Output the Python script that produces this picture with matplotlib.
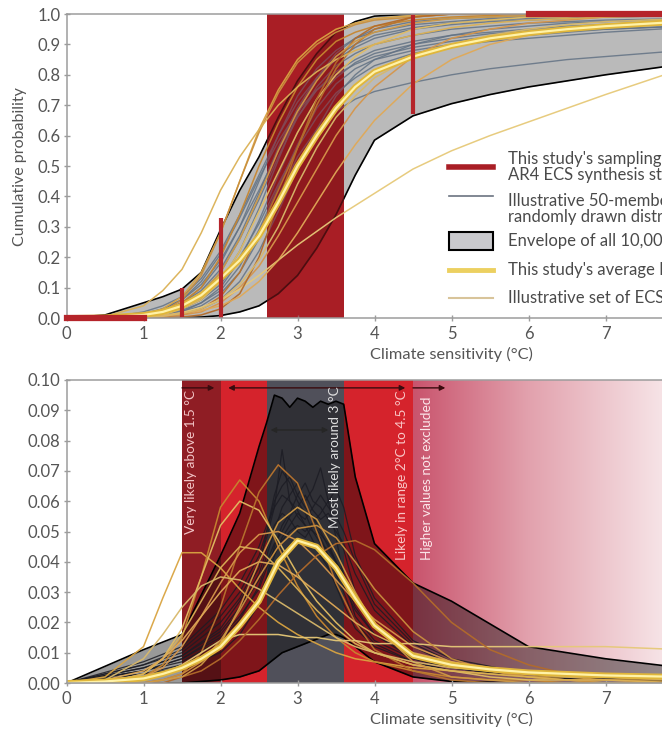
import numpy as np
import matplotlib
matplotlib.use("Agg")
import matplotlib.pyplot as plt
from matplotlib.colors import LinearSegmentedColormap
from matplotlib.patches import Rectangle

plt.rcParams['font.family'] = ['Lato', 'DejaVu Sans']

# ---------------- data: top panel (cumulative probability) ----------------
x_grid = [0, 0.5, 1.0, 1.25, 1.5, 1.75, 2.0, 2.25, 2.5, 2.75, 3.0, 3.25, 3.5, 3.75,
          4.0, 4.5, 5.0, 5.5, 6.0, 6.5, 7.0, 8.0]

cdf_env_upper = [0, 0.01, 0.05, 0.07, 0.095, 0.15, 0.29, 0.42, 0.53, 0.66, 0.78, 0.87, 0.94, 0.975,
                 0.993, 1, 1, 1, 1, 1, 1, 1]
cdf_env_lower = [0, 0, 0, 0, 0.001, 0.003, 0.008, 0.02, 0.04, 0.08, 0.14, 0.23, 0.34, 0.47,
                 0.585, 0.665, 0.705, 0.735, 0.76, 0.78, 0.80, 0.835]
cdf_average = [0, 0.002, 0.01, 0.02, 0.04, 0.075, 0.13, 0.19, 0.27, 0.38, 0.50, 0.60, 0.69, 0.76,
               0.81, 0.86, 0.895, 0.92, 0.937, 0.95, 0.96, 0.975]

rand_cdf_1 = [0, 0, 0.02, 0.04, 0.07, 0.13, 0.22, 0.34, 0.47, 0.60, 0.71, 0.79, 0.85, 0.89, 0.92, 0.95, 0.965, 0.975, 0.98, 0.985, 0.99, 0.995]
rand_cdf_2 = [0, 0, 0.01, 0.02, 0.04, 0.08, 0.15, 0.26, 0.39, 0.53, 0.66, 0.76, 0.83, 0.87, 0.90, 0.93, 0.95, 0.96, 0.97, 0.975, 0.98, 0.985]
rand_cdf_3 = [0, 0, 0.005, 0.01, 0.02, 0.05, 0.10, 0.19, 0.32, 0.47, 0.61, 0.72, 0.79, 0.84, 0.87, 0.90, 0.92, 0.935, 0.945, 0.955, 0.96, 0.97]
rand_cdf_4 = [0, 0, 0.01, 0.02, 0.05, 0.10, 0.18, 0.30, 0.45, 0.60, 0.73, 0.82, 0.88, 0.92, 0.94, 0.965, 0.975, 0.985, 0.99, 0.99, 0.995, 1]
rand_cdf_5 = [0, 0, 0.005, 0.01, 0.02, 0.04, 0.08, 0.15, 0.26, 0.40, 0.53, 0.62, 0.68, 0.72, 0.745, 0.775, 0.80, 0.82, 0.835, 0.85, 0.86, 0.88]
rand_cdf_6 = [0, 0, 0.01, 0.03, 0.06, 0.11, 0.19, 0.30, 0.42, 0.55, 0.66, 0.75, 0.81, 0.85, 0.88, 0.91, 0.93, 0.94, 0.95, 0.96, 0.965, 0.975]
rand_cdf_7 = [0, 0, 0.005, 0.01, 0.03, 0.06, 0.12, 0.22, 0.36, 0.52, 0.67, 0.79, 0.87, 0.92, 0.95, 0.975, 0.985, 0.99, 0.995, 1, 1, 1]
rand_cdf_8 = [0, 0, 0.005, 0.015, 0.03, 0.06, 0.11, 0.20, 0.31, 0.44, 0.56, 0.66, 0.74, 0.79, 0.83, 0.87, 0.895, 0.91, 0.92, 0.93, 0.94, 0.955]
rand_cdf_9 = [0, 0, 0.01, 0.025, 0.05, 0.09, 0.16, 0.27, 0.41, 0.56, 0.69, 0.79, 0.86, 0.90, 0.93, 0.955, 0.97, 0.98, 0.985, 0.99, 0.99, 0.995]
rand_cdf_10 = [0, 0, 0.005, 0.01, 0.025, 0.05, 0.09, 0.17, 0.29, 0.43, 0.57, 0.69, 0.77, 0.82, 0.85, 0.88, 0.90, 0.92, 0.93, 0.94, 0.95, 0.96]
rand_cdf_11 = [0, 0, 0.003, 0.008, 0.015, 0.03, 0.06, 0.12, 0.22, 0.35, 0.49, 0.62, 0.73, 0.80, 0.85, 0.90, 0.93, 0.95, 0.96, 0.97, 0.975, 0.985]
rand_cdf_12 = [0, 0, 0.015, 0.03, 0.06, 0.12, 0.21, 0.33, 0.46, 0.58, 0.68, 0.75, 0.80, 0.835, 0.86, 0.89, 0.91, 0.925, 0.935, 0.945, 0.95, 0.96]

lit_cdf_a = [0, 0, 0.01, 0.03, 0.07, 0.15, 0.28, 0.45, 0.62, 0.75, 0.85, 0.91, 0.95, 0.97, 0.985, 0.995, 1, 1, 1, 1, 1, 1]
lit_cdf_b = [0, 0, 0.01, 0.02, 0.05, 0.10, 0.20, 0.34, 0.50, 0.64, 0.76, 0.85, 0.91, 0.94, 0.96, 0.98, 0.99, 0.995, 1, 1, 1, 1]
lit_cdf_c = [0, 0, 0.005, 0.01, 0.03, 0.06, 0.12, 0.22, 0.35, 0.48, 0.61, 0.72, 0.80, 0.86, 0.90, 0.95, 0.97, 0.98, 0.99, 0.99, 1, 1]
lit_cdf_d = [0, 0, 0, 0.003, 0.01, 0.03, 0.07, 0.15, 0.28, 0.42, 0.56, 0.70, 0.82, 0.90, 0.95, 0.99, 1, 1, 1, 1, 1, 1]
lit_cdf_e = [0, 0, 0, 0.005, 0.01, 0.02, 0.05, 0.10, 0.17, 0.27, 0.38, 0.49, 0.60, 0.69, 0.76, 0.86, 0.92, 0.95, 0.97, 0.98, 0.99, 1]
lit_cdf_f = [0, 0, 0.003, 0.008, 0.018, 0.035, 0.06, 0.095, 0.14, 0.19, 0.24, 0.285, 0.33, 0.37, 0.41, 0.49, 0.55, 0.60, 0.645, 0.69, 0.735, 0.82]
lit_cdf_g = [0, 0, 0.005, 0.02, 0.06, 0.14, 0.28, 0.45, 0.61, 0.74, 0.84, 0.90, 0.94, 0.965, 0.98, 0.99, 1, 1, 1, 1, 1, 1]
lit_cdf_h = [0, 0.005, 0.04, 0.09, 0.16, 0.28, 0.42, 0.53, 0.62, 0.70, 0.76, 0.81, 0.85, 0.88, 0.90, 0.93, 0.955, 0.97, 0.98, 0.985, 0.99, 0.995]
lit_cdf_i = [0, 0, 0, 0, 0.003, 0.01, 0.03, 0.08, 0.20, 0.38, 0.56, 0.72, 0.84, 0.92, 0.96, 0.99, 1, 1, 1, 1, 1, 1]
lit_cdf_j = [0, 0, 0.003, 0.008, 0.015, 0.025, 0.04, 0.07, 0.12, 0.19, 0.28, 0.38, 0.48, 0.57, 0.65, 0.77, 0.85, 0.90, 0.93, 0.95, 0.965, 0.98]
lit_cdf_k = [0, 0, 0.008, 0.02, 0.04, 0.08, 0.15, 0.26, 0.40, 0.55, 0.68, 0.78, 0.86, 0.91, 0.94, 0.97, 0.985, 0.99, 0.995, 1, 1, 1]
lit_cdf_l = [0, 0, 0.002, 0.006, 0.015, 0.03, 0.06, 0.11, 0.19, 0.30, 0.44, 0.56, 0.66, 0.73, 0.79, 0.86, 0.90, 0.93, 0.95, 0.965, 0.975, 0.985]

# AR4 synthesis-statement sampling marks
ar4_bar_x = [1.5, 2.0, 4.5]
ar4_bar_low = [0.0, 0.0, 0.67]
ar4_bar_high = [0.10, 0.33, 1.0]
ar4_span = [2.6, 3.6]
ar4_low_seg = [0, 1]
ar4_high_seg = [6, 10]

# ---------------- data: bottom panel (probability density) ----------------
pdf_average = [0, 0.0005, 0.0015, 0.003, 0.005, 0.008, 0.012, 0.019, 0.027, 0.040, 0.047, 0.045, 0.038, 0.028,
               0.019, 0.009, 0.006, 0.0045, 0.0035, 0.003, 0.0025, 0.002]

lit_pdf_a = [0, .002, .012, .028, .043, .043, .038, .031, .025, .020, .016, .013, .010, .008, .007, .005, .004, .003, .002, .002, .001, .001]
lit_pdf_b = [0, 0, .002, .006, .015, .035, .058, .067, .060, .045, .032, .022, .015, .010, .007, .004, .002, .001, .001, 0, 0, 0]
lit_pdf_c = [0, 0, .003, .008, .018, .035, .052, .060, .057, .047, .036, .027, .020, .014, .010, .006, .004, .002, .001, .001, 0, 0]
lit_pdf_d = [0, 0, 0, .001, .003, .010, .025, .045, .063, .072, .066, .050, .033, .020, .011, .004, .001, 0, 0, 0, 0, 0]
lit_pdf_e = [0, 0, .002, .005, .012, .022, .033, .043, .049, .050, .047, .041, .034, .027, .021, .012, .007, .004, .002, .001, .001, 0]
lit_pdf_f = [0, 0, .001, .003, .006, .010, .014, .016, .016, .016, .015, .015, .014, .014, .013, .013, .012, .012, .012, .012, .012, .011]
lit_pdf_g = [0, 0, 0, .001, .003, .007, .014, .024, .035, .045, .051, .052, .048, .040, .031, .017, .008, .004, .002, .001, 0, 0]
lit_pdf_h = [0, 0, .003, .008, .016, .027, .038, .045, .044, .038, .031, .024, .018, .013, .010, .006, .004, .003, .002, .001, .001, 0]
lit_pdf_i = [0, 0, 0, 0, .002, .004, .008, .014, .021, .029, .036, .042, .046, .047, .044, .033, .020, .011, .006, .003, .002, .001]
lit_pdf_j = [0, .001, .004, .008, .014, .022, .030, .037, .040, .039, .035, .030, .025, .020, .016, .010, .007, .005, .004, .003, .002, .001]
lit_pdf_k = [0, 0, 0, .001, .002, .006, .013, .025, .040, .053, .058, .054, .043, .030, .019, .007, .002, .001, 0, 0, 0, 0]
lit_pdf_l = [0, .001, .008, .016, .025, .032, .035, .034, .031, .027, .023, .019, .015, .012, .010, .007, .005, .004, .003, .002, .002, .001]

x_fine = [0, 1.0, 1.5, 2.0, 2.25, 2.5, 2.6, 2.7, 2.8, 2.9, 3.0, 3.1, 3.2, 3.3, 3.4, 3.5, 3.6, 3.75,
          4.0, 4.5, 5.0, 6.0, 7.0, 8.0]
pdf_env_upper = [0, .011, .016, .042, .056, .078, .086, .095, .094, .091, .094, .093, .091, .093, .092, .093, .092, .068,
                 .046, .033, .027, .012, .008, .005]
pdf_env_lower = [0, 0, 0, .001, .002, .004, .006, .008, .010, .011, .012, .013, .014, .015, .016, .016, .015, .012,
                 .007, .002, .0005, 0, 0, 0]

rand_pdf_1 = [0, .006, .010, .020, .028, .040, .048, .058, .077, .060, .055, .052, .050, .048, .042, .036, .030, .020, .013, .007, .004, .002, .001, .0005]
rand_pdf_2 = [0, .004, .008, .016, .024, .034, .042, .050, .058, .062, .066, .060, .064, .071, .060, .048, .035, .022, .014, .008, .005, .002, .001, .0005]
rand_pdf_3 = [0, .005, .009, .018, .027, .038, .050, .060, .065, .068, .062, .058, .055, .050, .045, .040, .032, .024, .016, .009, .005, .003, .001, .001]
rand_pdf_4 = [0, .003, .006, .012, .019, .028, .035, .045, .052, .056, .062, .066, .060, .058, .054, .050, .046, .036, .024, .012, .006, .003, .001, .0005]
rand_pdf_5 = [0, .007, .012, .024, .033, .045, .052, .058, .062, .060, .057, .052, .047, .042, .038, .032, .026, .018, .012, .007, .004, .002, .001, .0005]
rand_pdf_6 = [0, .004, .007, .014, .021, .032, .040, .046, .050, .055, .058, .062, .057, .054, .056, .052, .044, .030, .018, .009, .005, .002, .001, .0005]
rand_pdf_7 = [0, .005, .009, .017, .025, .036, .044, .052, .056, .054, .050, .048, .052, .049, .046, .040, .036, .027, .018, .010, .006, .003, .001, .0005]
rand_pdf_8 = [0, .003, .005, .010, .016, .026, .034, .042, .048, .052, .056, .054, .058, .062, .058, .055, .050, .040, .026, .013, .007, .003, .001, .0005]
rand_pdf_9 = [0, .006, .011, .022, .030, .042, .050, .062, .070, .066, .060, .056, .050, .046, .044, .040, .034, .025, .016, .008, .005, .002, .001, .0005]
rand_pdf_10 = [0, .004, .008, .015, .022, .031, .038, .044, .047, .050, .052, .050, .053, .056, .060, .064, .058, .042, .028, .014, .008, .003, .0015, .0005]

# IPCC AR4 statement bands (bottom panel)
band_very_likely = [1.5, 2.0]
band_likely_left = [2.0, 2.6]
band_most_likely = [2.6, 3.6]
band_likely_right = [3.6, 4.5]
band_higher = [4.5, 10.0]

x_tick_values = [0, 1, 2, 3, 4, 5, 6, 7]

rand_cdfs = [rand_cdf_1, rand_cdf_2, rand_cdf_3, rand_cdf_4, rand_cdf_5, rand_cdf_6,
             rand_cdf_7, rand_cdf_8, rand_cdf_9, rand_cdf_10, rand_cdf_11, rand_cdf_12]
lit_cdfs = [lit_cdf_a, lit_cdf_b, lit_cdf_c, lit_cdf_d, lit_cdf_e, lit_cdf_f,
            lit_cdf_g, lit_cdf_h, lit_cdf_i, lit_cdf_j, lit_cdf_k, lit_cdf_l]
lit_pdfs = [lit_pdf_a, lit_pdf_b, lit_pdf_c, lit_pdf_d, lit_pdf_e, lit_pdf_f,
            lit_pdf_g, lit_pdf_h, lit_pdf_i, lit_pdf_j, lit_pdf_k, lit_pdf_l]
rand_pdfs = [rand_pdf_1, rand_pdf_2, rand_pdf_3, rand_pdf_4, rand_pdf_5,
             rand_pdf_6, rand_pdf_7, rand_pdf_8, rand_pdf_9, rand_pdf_10]

# ---------------- style ----------------
RED = '#a91e25'
BAR_RED = '#b5242a'
AXIS_GREY = '#9c9c9c'
TEXT_GREY = '#555555'
lit_colors = ['#d9a441', '#c7862f', '#e2bd62', '#b8742e', '#d6964a', '#e6c978',
              '#c98f3e', '#dbb155', '#b36b2a', '#e0a957', '#cf9a45', '#d8b86a']

W, H = 662, 735
fig = plt.figure(figsize=(W / 100, H / 100), dpi=100)
fig.patch.set_facecolor('white')

ax1 = fig.add_axes([66.5 / W, 1 - 318 / H, 770 / W, 304 / H])
ax2 = fig.add_axes([66.5 / W, 1 - 683 / H, 770 / W, 303 / H])


def style_axes(ax):
    for side in ['left', 'bottom', 'top']:
        ax.spines[side].set_color(AXIS_GREY)
        ax.spines[side].set_linewidth(1.1)
        ax.spines[side].set_zorder(12)
    ax.spines['right'].set_visible(False)
    ax.tick_params(direction='inout', length=5, width=1, color=AXIS_GREY,
                   labelcolor=TEXT_GREY, labelsize=12)
    ax.tick_params(axis='y', pad=2)
    ax.tick_params(axis='x', pad=3)
    ax.set_xlim(0, 10)
    ax.set_xticks(x_tick_values)
    ax.set_xlabel('Climate sensitivity (°C)', fontsize=11.8, color=TEXT_GREY, labelpad=4)


# ---------------- top panel ----------------
ax1.axvspan(ar4_span[0], ar4_span[1], color=RED, zorder=0, lw=0)
ax1.fill_between(x_grid, cdf_env_lower, cdf_env_upper, color='black', alpha=0.27, lw=0, zorder=1)
ax1.plot(x_grid, cdf_env_upper, color='black', lw=1.2, zorder=1.5)
ax1.plot(x_grid, cdf_env_lower, color='black', lw=1.2, zorder=1.5)
for c in rand_cdfs:
    ax1.plot(x_grid, c, color='#627284', lw=1.0, alpha=0.85, zorder=2)
ax1.axvspan(ar4_span[0], ar4_span[1], color=RED, alpha=0.45, zorder=2.5, lw=0)
for c, col in zip(lit_cdfs, lit_colors):
    ax1.plot(x_grid, c, color=col, lw=1.1, alpha=0.95, zorder=3)
ax1.plot(x_grid, cdf_average, color='#e0b63a', lw=4.2, zorder=4, solid_capstyle='round')
ax1.plot(x_grid, cdf_average, color='#fff2a8', lw=1.6, zorder=4.1)
ax1.vlines(ar4_bar_x, ar4_bar_low, ar4_bar_high, color=BAR_RED, lw=3, zorder=6)
ax1.plot(ar4_low_seg, [0, 0], color=BAR_RED, lw=4.5, zorder=13, clip_on=False)
ax1.plot(ar4_high_seg, [1, 1], color=BAR_RED, lw=4.5, zorder=13, clip_on=False)

style_axes(ax1)
ax1.set_ylim(0, 1.0)
ax1.set_yticks(np.arange(0, 1.01, 0.1))
ax1.set_yticklabels([f'{v:.1f}' for v in np.arange(0, 1.01, 0.1)])

# legend (drawn by hand in axes fraction)
def fx(px):
    return (px - 66.5) / 770

def fy(py):
    return (318 - py) / 304

tr = ax1.transAxes
hx = [fx(449), fx(493)]
tx = fx(508)
ax1.plot(hx, [fy(167)] * 2, color=RED, lw=4, transform=tr, zorder=20)
ax1.plot(hx, [fy(196)] * 2, color='#6b7380', lw=1.2, transform=tr, zorder=20)
ax1.add_patch(Rectangle((fx(449), fy(250)), fx(493) - fx(449), fy(232) - fy(250), transform=tr,
                        facecolor='#c9c9cd', edgecolor='black', lw=1.5, zorder=20))
ax1.plot(hx, [fy(270)] * 2, color='#ecd060', lw=3.5, transform=tr, zorder=20)
ax1.plot(hx, [fy(298)] * 2, color='#d8c49a', lw=1.5, transform=tr, zorder=20)
leg_kw = dict(transform=tr, fontsize=12, color='#4a4a4a', va='center', ha='left',
              linespacing=1.0, zorder=20)
ax1.text(tx, fy(167), "This study's sampling of the\nAR4 ECS synthesis statement", **leg_kw)
ax1.text(tx, fy(209), "Illustrative 50-member set of\nrandomly drawn distributions", **leg_kw)
ax1.text(tx, fy(241), "Envelope of all 10,000 distributions", **leg_kw)
ax1.text(tx, fy(270), "This study's average ECS distribution", **leg_kw)
ax1.text(tx, fy(298), "Illustrative set of ECS distributions", **leg_kw)

fig.text(20 / W, 1 - 167 / H, 'Cumulative probability', rotation=90, ha='center', va='center',
         fontsize=11.5, color=TEXT_GREY)

# ---------------- bottom panel ----------------
ax2.axvspan(*band_very_likely, color='#8f1d24', lw=0, zorder=0)
ax2.axvspan(*band_likely_left, color='#d5232c', lw=0, zorder=0)
ax2.axvspan(*band_most_likely, color='#50505a', lw=0, zorder=0)
ax2.axvspan(*band_likely_right, color='#d5232c', lw=0, zorder=0)
grad_cmap = LinearSegmentedColormap.from_list(
    'fade', [(0.0, '#c9546d'), (0.27, '#e2a1ad'), (0.58, '#f6e2e5'), (1.0, '#ffffff')])
ax2.imshow(np.linspace(0, 1, 256).reshape(1, -1), cmap=grad_cmap, aspect='auto',
           extent=[band_higher[0], band_higher[1], 0, 0.1], zorder=0, interpolation='bilinear')

ax2.fill_between(x_fine, pdf_env_lower, pdf_env_upper, color='black', alpha=0.4, lw=0, zorder=1)
ax2.plot(x_fine, pdf_env_upper, color='black', lw=1.2, zorder=1.5)
ax2.plot(x_fine, pdf_env_lower, color='black', lw=1.2, zorder=1.5)
for c in rand_pdfs:
    ax2.plot(x_fine, c, color='#1c1c24', lw=0.9, alpha=0.85, zorder=2)
for c, col in zip(lit_pdfs, lit_colors):
    ax2.plot(x_grid, c, color=col, lw=1.1, alpha=0.95, zorder=3)
ax2.plot(x_grid, pdf_average, color='#e0b63a', lw=4.2, zorder=4, solid_capstyle='round')
ax2.plot(x_grid, pdf_average, color='#fff2a8', lw=1.6, zorder=4.1)

arrow_col = '#3a0b0e'
akw = dict(color=arrow_col, lw=1.0, mutation_scale=8, shrinkA=0, shrinkB=0)
ax2.annotate('', xy=(1.92, 0.0974), xytext=(1.5, 0.0974), arrowprops=dict(arrowstyle='-|>', **akw), zorder=8)
ax2.annotate('', xy=(4.4, 0.0974), xytext=(2.1, 0.0974), arrowprops=dict(arrowstyle='<|-|>', **akw), zorder=8)
ax2.annotate('', xy=(4.92, 0.0974), xytext=(4.5, 0.0974), arrowprops=dict(arrowstyle='-|>', **akw), zorder=8)
ax2.annotate('', xy=(3.4, 0.0835), xytext=(2.65, 0.0835),
             arrowprops=dict(arrowstyle='<|-|>', color='#262626', lw=1.0, mutation_scale=8, shrinkA=0, shrinkB=0), zorder=8)

vt = dict(rotation=90, ha='center', va='top', fontsize=9.8, zorder=9)
ax2.text(1.62, 0.0966, 'Very likely above 1.5 °C', color='#f2c4c6', **vt)
ax2.text(3.49, 0.0978, 'Most likely around 3 °C', color='#dedede', **vt)
ax2.text(4.36, 0.0966, 'Likely in range 2°C to 4.5 °C', color='#f9c6c6', **vt)
ax2.text(4.68, 0.0944, 'Higher values not excluded', color='#fbe6e9', **vt)

style_axes(ax2)
ax2.set_ylim(0, 0.1)
ax2.set_yticks(np.arange(0, 0.1001, 0.01))
ax2.set_yticklabels([f'{v:.2f}' for v in np.arange(0, 0.1001, 0.01)])

fig.savefig('out.png', dpi=100)
